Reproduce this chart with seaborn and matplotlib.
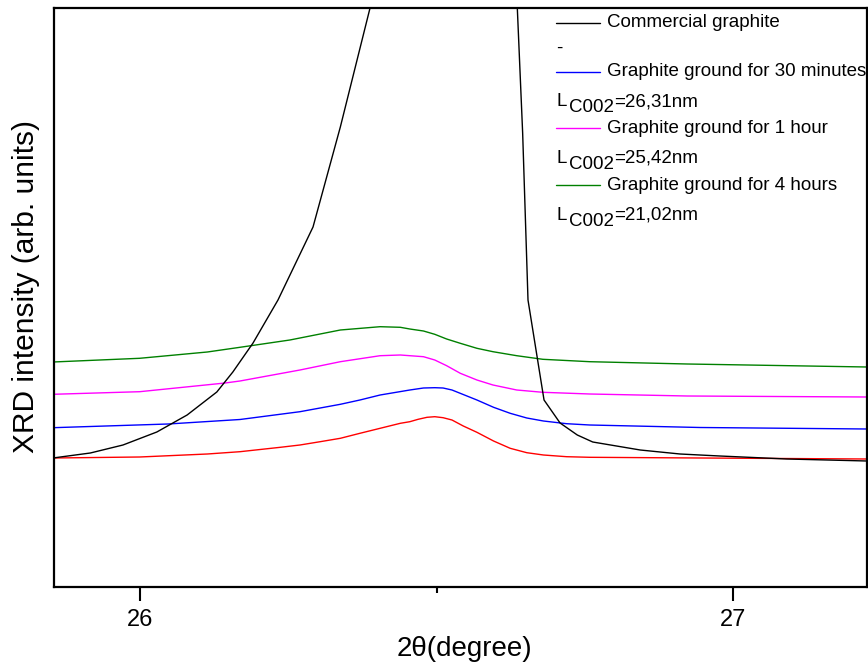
import matplotlib
matplotlib.use("Agg")
import matplotlib.pyplot as plt
from matplotlib.ticker import FixedLocator
from matplotlib.transforms import offset_copy
import numpy as np
import pandas as pd
import seaborn as sns

# 2-theta (degree) and intensity (arb. units) of each diffractogram
tt_commercial = [25.854, 25.917, 25.972, 26.029, 26.080, 26.130, 26.157, 26.191,
                 26.233, 26.292, 26.338, 26.388, 26.413, 26.523, 26.627, 26.636,
                 26.645, 26.654, 26.681, 26.708, 26.737, 26.763, 26.843, 26.910,
                 26.977, 27.090, 27.225]
int_commercial = [129, 134, 142, 155, 172, 195, 215, 244,
                  287, 360, 460, 579, 647, 2087, 707, 579,
                  454, 287, 187, 164, 152, 145, 137, 133,
                  131, 128, 126]

tt_30min = [25.854, 26.048, 26.169, 26.270, 26.338, 26.371, 26.405, 26.455,
            26.478, 26.497, 26.511, 26.526, 26.568, 26.596, 26.624, 26.652,
            26.680, 26.719, 26.758, 26.944, 27.225]
int_30min = [159.3, 163.0, 167.5, 175.3, 182.7, 187.0, 192.0, 197.0,
             199.0, 199.3, 199.0, 197.0, 187.0, 179.7, 173.7, 169.0,
             166.0, 163.3, 162.0, 159.5, 158.0]

tt_1h = [25.854, 26.000, 26.144, 26.169, 26.270, 26.338, 26.405, 26.439,
         26.455, 26.478, 26.497, 26.517, 26.540, 26.568, 26.595, 26.635,
         26.679, 26.758, 26.922, 27.225]
int_1h = [192.7, 195.3, 204.0, 206.0, 217.0, 225.3, 231.3, 232.0,
          231.3, 230.3, 227.0, 221.3, 213.7, 207.0, 202.0, 197.0,
          194.7, 193.0, 191.0, 190.0]

tt_4h = [25.854, 26.000, 26.114, 26.169, 26.253, 26.338, 26.405, 26.439,
         26.455, 26.478, 26.497, 26.517, 26.540, 26.568, 26.595, 26.635,
         26.679, 26.758, 26.922, 27.225]
int_4h = [225.0, 228.7, 235.0, 239.7, 247.0, 257.0, 260.3, 259.7,
          258.0, 256.0, 252.7, 248.0, 243.7, 238.7, 235.3, 231.3,
          227.7, 225.3, 223.0, 220.0]

tt_red = [25.854, 26.000, 26.114, 26.169, 26.237, 26.270, 26.304, 26.338,
          26.371, 26.405, 26.439, 26.455, 26.469, 26.484, 26.497, 26.511,
          26.526, 26.545, 26.568, 26.596, 26.624, 26.652, 26.680, 26.719,
          26.758, 26.944, 27.225]
int_red = [129.0, 130.0, 133.0, 135.3, 139.7, 142.0, 145.3, 148.7,
           153.7, 158.7, 163.7, 165.3, 167.7, 169.7, 170.3, 169.3,
           167.0, 161.0, 154.7, 146.0, 138.7, 134.3, 132.0, 130.3,
           129.7, 129.0, 128.0]

sample_names = ["Commercial graphite", "Graphite ground for 30 minutes",
                "Graphite ground for 1 hour", "Graphite ground for 4 hours",
                "Reference"]
sample_colors = ["black", "blue", "magenta", "green", "red"]
crystallite_labels = ["26,31nm", "25,42nm", "21,02nm"]

series = [(tt_commercial, int_commercial), (tt_30min, int_30min),
          (tt_1h, int_1h), (tt_4h, int_4h), (tt_red, int_red)]
frames = []
for name, (tt, inten) in zip(sample_names, series):
    frames.append(pd.DataFrame({"two_theta": tt, "intensity": inten, "sample": name}))
df = pd.concat(frames, ignore_index=True)

sns.set_theme(style="ticks")
plt.rcParams["font.family"] = ["Liberation Sans", "DejaVu Sans"]
plt.rcParams["text.color"] = "black"
plt.rcParams["axes.labelcolor"] = "black"
plt.rcParams["xtick.color"] = "black"
plt.rcParams["xtick.labelcolor"] = "black"

fig, ax = plt.subplots(figsize=(8.68, 6.66), dpi=100)
fig.subplots_adjust(left=53.5 / 868, right=866.5 / 868,
                    bottom=(666 - 587) / 666, top=(666 - 8) / 666)

sns.lineplot(data=df, x="two_theta", y="intensity", hue="sample",
             hue_order=sample_names[::-1],
             palette=dict(zip(sample_names, sample_colors)),
             estimator=None, sort=False, linewidth=1.0, legend=False, ax=ax)

ax.set_xlim(25.855, 27.224)
ax.set_ylim(0, 579)
ax.set_xticks([26, 27])
ax.set_xticklabels(["26", "27"])
ax.xaxis.set_minor_locator(FixedLocator([26.5]))
ax.set_yticks([])
ax.tick_params(axis="x", which="major", direction="out", length=10, width=1.5,
               labelsize=17, pad=6, colors="black")
ax.tick_params(axis="x", which="minor", direction="out", length=4, width=1.5)
for sp in ax.spines.values():
    sp.set_linewidth(1.6)
    sp.set_color("black")

ax.set_xlabel("2θ(degree)", fontsize=20, color="black")
ax.xaxis.set_label_coords(0.506, -0.084)
ax.set_ylabel("XRD intensity (arb. units)", fontsize=21.5, color="black")
ax.yaxis.set_label_coords(-0.016, 0.519)

# key in the upper right corner
fs = 13.5
x_h0, x_h1, x_txt = 0.6181, 0.6722, 0.6808
line_rows = [(0, 0.9741), (1, 0.8895), (2, 0.7927), (3, 0.6943)]
for idx, y in line_rows:
    ax.plot([x_h0, x_h1], [y, y], transform=ax.transAxes, color=sample_colors[idx],
            lw=1.0, clip_on=False)
    ax.text(x_txt, y, sample_names[idx], transform=ax.transAxes, fontsize=fs,
            va="center", ha="left", color="black")
ax.text(x_h0, 0.9309, "-", transform=ax.transAxes, fontsize=fs, va="center",
        ha="left", color="black")

# crystallite size lines: "L" with a lowered "C002" and the value on the L baseline
fig.canvas.draw()
renderer = fig.canvas.get_renderer()
for y, val in zip([0.8307, 0.7323, 0.6339], crystallite_labels):
    t1 = ax.text(x_h0, y, "L", transform=ax.transAxes, fontsize=fs,
                 va="baseline", ha="left", color="black")
    w1 = t1.get_window_extent(renderer).width
    t2 = ax.text(x_h0, y, "C002", fontsize=fs, va="baseline", ha="left", color="black",
                 transform=offset_copy(ax.transAxes, fig=fig, x=w1 + 3, y=-6, units="dots"))
    w2 = t2.get_window_extent(renderer).width
    ax.text(x_h0, y, "=" + val, fontsize=fs, va="baseline", ha="left", color="black",
            transform=offset_copy(ax.transAxes, fig=fig, x=w1 + 3 + w2, y=0, units="dots"))

fig.savefig("out.png", dpi=100)
